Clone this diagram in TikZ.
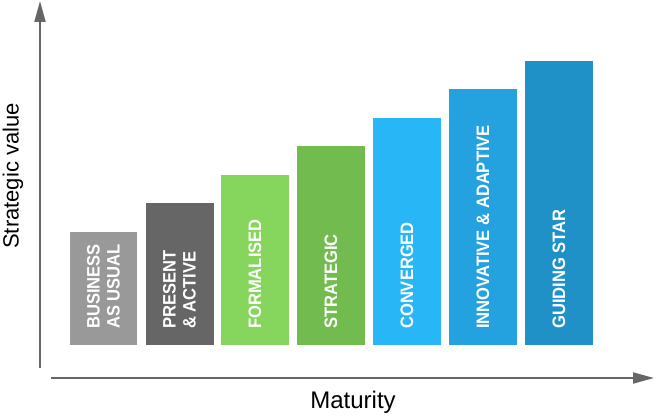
\documentclass[tikz,border=0pt]{standalone}
\usepackage{fontspec}
\setmainfont{Liberation Sans}
\newfontfamily\barfont[FakeStretch=0.92]{Liberation Sans}
\usetikzlibrary{arrows.meta}
\definecolor{axisgray}{HTML}{666666}
\definecolor{barbau}{HTML}{999999}
\definecolor{barpresent}{HTML}{666666}
\definecolor{barformal}{HTML}{86D55C}
\definecolor{barstrat}{HTML}{72BB4E}
\definecolor{barconv}{HTML}{29B6F6}
\definecolor{barinno}{HTML}{24A2E0}
\definecolor{barstar}{HTML}{1F91C7}

\begin{document}
\begin{tikzpicture}[x=1pt, y=-1pt,
    bar/.style={rectangle, anchor=south, minimum width=68pt, inner sep=0pt},
    lbl/.style={anchor=west, rotate=90, inner sep=0pt, text=white, align=left,
      font=\barfont\bfseries\fontsize{18}{20}\selectfont},
    axis/.style={-{Triangle[length=21pt, width=11pt]}, axisgray, line width=2pt}]
    \useasboundingbox (0,0) rectangle (656,420);
    \coordinate (yfoot) at (40,368);
    \coordinate (ytip)  at (40,1);
    \coordinate (xfoot) at (51,378);
    \coordinate (xtip)  at (654,378);
    \draw[axis] (yfoot) -- (ytip);
    \draw[axis] (xfoot) -- (xtip);
    \node[rotate=90, font=\fontsize{22}{26}\selectfont] (ylab) at (13,176) {Strategic value};
    \node[font=\fontsize{24}{28}\selectfont] (xlab) at (353,402) {Maturity};
    \node[bar, fill=barbau, minimum width=67pt, minimum height=113pt] (b1) at (103.5,345) {};
    \node[bar, fill=barpresent, minimum height=142pt] (b2) at (179.5,345) {};
    \node[bar, fill=barformal,  minimum height=170pt] (b3) at (255,345) {};
    \node[bar, fill=barstrat,   minimum height=199pt] (b4) at (331,345) {};
    \node[bar, fill=barconv,    minimum height=227pt] (b5) at (407,345) {};
    \node[bar, fill=barinno,    minimum height=256pt] (b6) at (483,345) {};
    \node[bar, fill=barstar,    minimum height=284pt] (b7) at (559,345) {};
    \node[lbl] (t1) at ([yshift=16pt]b1.south) {BUSINESS\\AS USUAL};
    \node[lbl] (t2) at ([yshift=16pt]b2.south) {PRESENT\\\& ACTIVE};
    \node[lbl] (t3) at ([yshift=16pt]b3.south) {FORMALISED};
    \node[lbl] (t4) at ([yshift=16pt]b4.south) {STRATEGIC};
    \node[lbl] (t5) at ([yshift=16pt]b5.south) {CONVERGED};
    \node[lbl] (t6) at ([yshift=16pt]b6.south) {INNOVATIVE \& ADAPTIVE};
    \node[lbl] (t7) at ([yshift=16pt]b7.south) {GUIDING STAR};
  \end{tikzpicture}
\end{document}
